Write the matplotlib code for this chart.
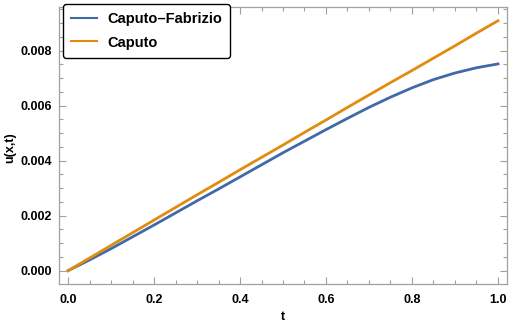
import numpy as np
import matplotlib
matplotlib.use('Agg')
import matplotlib.pyplot as plt
from matplotlib.ticker import MultipleLocator, FormatStrFormatter

plt.rcParams['font.family'] = ['Liberation Sans', 'DejaVu Sans']

t = [0.0, 0.05, 0.1, 0.15, 0.2, 0.25, 0.3, 0.35, 0.4, 0.45, 0.5,
     0.55, 0.6, 0.65, 0.7, 0.75, 0.8, 0.85, 0.9, 0.95, 1.0]
caputo_fabrizio = [0.0, 0.00039, 0.00080, 0.00123, 0.00166, 0.00210,
                   0.00254, 0.00297, 0.00341, 0.00385, 0.00429, 0.00471,
                   0.00513, 0.00554, 0.00594, 0.00631, 0.00665, 0.00695,
                   0.00719, 0.00738, 0.00752]
caputo = [0.0, 0.00046, 0.00092, 0.00138, 0.00184, 0.00230, 0.00276,
          0.00321, 0.00367, 0.00412, 0.00457, 0.00503, 0.00548, 0.00594,
          0.00639, 0.00684, 0.00728, 0.00773, 0.00818, 0.00864, 0.00909]

fig = plt.figure(figsize=(5.1, 3.27), dpi=100)
ax = fig.add_axes([59/510, 1 - 284/327, 448/510, 277/327])

ax.plot(t, caputo_fabrizio, color='#3f6aa8', lw=2, label='Caputo\u2013Fabrizio')
ax.plot(t, caputo, color='#e08c0e', lw=2, label='Caputo')

ax.set_xlim(-0.021, 1.021)
ax.set_ylim(-0.000484, 0.00959)

ax.xaxis.set_major_locator(MultipleLocator(0.2))
ax.xaxis.set_minor_locator(MultipleLocator(0.05))
ax.yaxis.set_major_locator(MultipleLocator(0.002))
ax.yaxis.set_minor_locator(MultipleLocator(0.0005))
ax.xaxis.set_major_formatter(FormatStrFormatter('%.1f'))
ax.yaxis.set_major_formatter(FormatStrFormatter('%.3f'))

for s in ax.spines.values():
    s.set_color('#a0a0a0')
    s.set_linewidth(0.9)
ax.tick_params(which='both', direction='in', top=True, right=True,
               color='#a0a0a0', width=0.8)
ax.tick_params(which='major', length=5, labelsize=9, pad=5)
ax.tick_params(axis='x', which='major', pad=7)
ax.tick_params(which='minor', length=3)
for lab in ax.get_xticklabels() + ax.get_yticklabels():
    lab.set_fontweight('bold')

ax.set_xlabel('t', fontsize=9, fontweight='bold')
ax.set_ylabel('u(x,t)', fontsize=9, fontweight='bold')
# place axis labels where the reference has them (figure pixels)
ax.xaxis.set_label_coords(283/510, 1 - 311/327, transform=fig.transFigure)
ax.yaxis.set_label_coords(4/510, 1 - 148/327, transform=fig.transFigure)
ax.yaxis.label.set_va('top')

leg = ax.legend(loc='upper left', bbox_to_anchor=(63/510, 1 - 4/327),
                bbox_transform=fig.transFigure,
                prop={'size': 10.5, 'weight': 'bold'},
                fancybox=True, framealpha=1, edgecolor='black',
                handlelength=1.8, handletextpad=0.7, borderpad=0.55,
                labelspacing=0.65, borderaxespad=0)
leg.get_frame().set_linewidth(1.0)
for line in leg.get_lines():
    line.set_linewidth(1.5)

fig.savefig('out.png', dpi=100)
